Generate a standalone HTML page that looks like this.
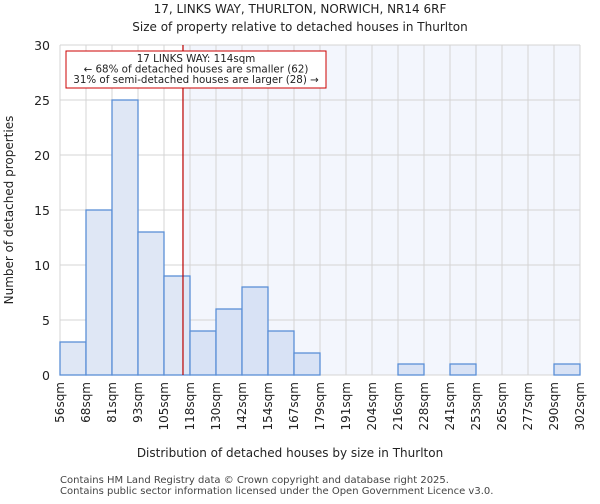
<!DOCTYPE html>
<html><head><meta charset="utf-8"><style>
body{margin:0;background:#fff;font-family:"DejaVu Sans","Liberation Sans",sans-serif;}
</style></head><body>
<svg width="600" height="500" xmlns="http://www.w3.org/2000/svg" font-family="DejaVu Sans, Liberation Sans, sans-serif">
<text x="300" y="13" text-anchor="middle" font-size="12" fill="#222">17, LINKS WAY, THURLTON, NORWICH, NR14 6RF</text>
<text x="300" y="31" text-anchor="middle" font-size="12" fill="#222">Size of property relative to detached houses in Thurlton</text>
<g id="plot"></g>
<text x="290" y="457" text-anchor="middle" font-size="12" fill="#222">Distribution of detached houses by size in Thurlton</text>
<text transform="translate(13,210) rotate(-90)" text-anchor="middle" font-size="12" fill="#222">Number of detached properties</text>
<text x="60" y="483" font-size="10" fill="#444">Contains HM Land Registry data © Crown copyright and database right 2025.</text>
<text x="60" y="494" font-size="10" fill="#444">Contains public sector information licensed under the Open Government Licence v3.0.</text>
</svg>
<script>
const binLabels=["56sqm","68sqm","81sqm","93sqm","105sqm","118sqm","130sqm","142sqm","154sqm","167sqm","179sqm","191sqm","204sqm","216sqm","228sqm","241sqm","253sqm","265sqm","277sqm","290sqm","302sqm"];
const counts=[3,15,25,13,9,4,6,8,4,2,0,0,0,1,0,1,0,0,0,1];
const yTicks=[0,5,10,15,20,25,30];
const markerIndex=4.73;
const NS="http://www.w3.org/2000/svg";
const g=document.getElementById('plot');
const X0=60,X1=580,Y0=375,Y1=45,yMax=30;
const bw=(X1-X0)/counts.length;
const xs=i=>X0+i*bw, ys=v=>Y0-(v/yMax)*(Y0-Y1);
function mk(t,a){const e=document.createElementNS(NS,t);for(const k in a)e.setAttribute(k,a[k]);g.appendChild(e);return e;}
const mx=xs(markerIndex);
let e=mk('rect',{x:mx,y:Y1,width:X1-mx,height:Y0-Y1,fill:'#f3f6fd'});


for(let i=0;i<=counts.length;i++){e=mk('line',{x1:xs(i),x2:xs(i),y1:Y1,y2:Y0,stroke:'#d4d4d4','stroke-width':1});

}
yTicks.forEach(t=>{e=mk('line',{x1:X0,x2:X1,y1:ys(t),y2:ys(t),stroke:'#d4d4d4','stroke-width':1});


e=mk('text',{x:X0-10,y:ys(t)+5,'text-anchor':'end','font-size':12.5,fill:'#222'});e.textContent=t;

});
counts.forEach((c,i)=>{if(!c)return;e=mk('rect',{x:xs(i),y:ys(c),width:bw,height:Y0-ys(c),fill:xs(i)<mx?'#dfe7f5':'#d8e2f5',stroke:'#5b8fd6','stroke-width':1.3});

});
binLabels.forEach((l,i)=>{e=mk('text',{transform:`translate(${xs(i)+4},382) rotate(-90)`,'text-anchor':'end','font-size':12,fill:'#222'});e.textContent=l;

});
e=mk('line',{x1:mx,x2:mx,y1:Y1,y2:Y0,stroke:'#b00','stroke-width':1.2});


e=mk('rect',{x:66,y:51,width:260,height:37,fill:'#fff',stroke:'#c00','stroke-width':1});


["17 LINKS WAY: 114sqm","← 68% of detached houses are smaller (62)","31% of semi-detached houses are larger (28) →"].forEach((s,k)=>{e=mk('text',{x:196,y:62+k*10.5,'text-anchor':'middle','font-size':10.3,fill:'#222'});e.textContent=s;

});
</script>
</body></html>
